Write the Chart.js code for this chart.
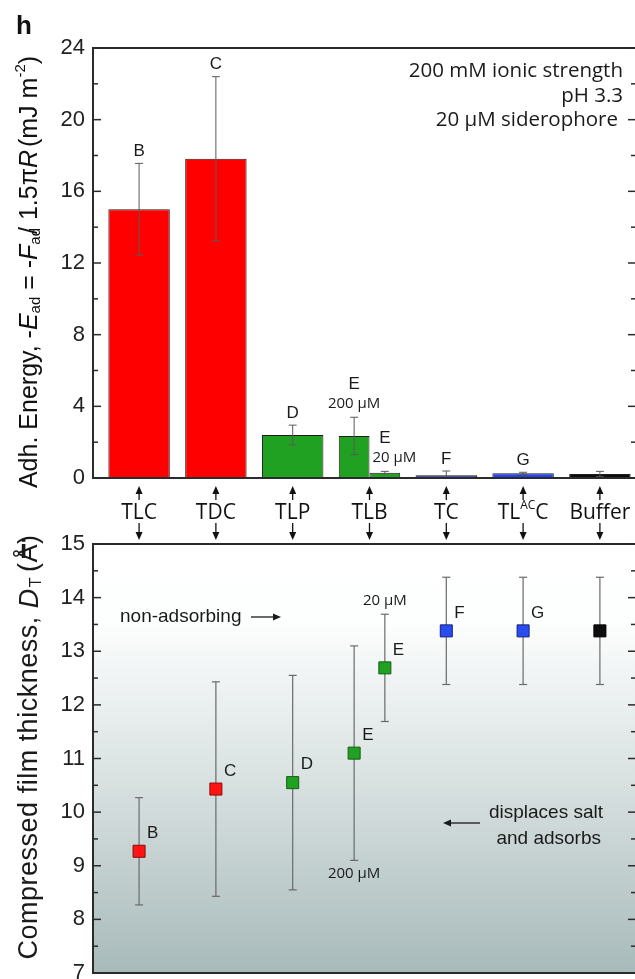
<!DOCTYPE html>
<html>
<head>
<meta charset="utf-8">
<script src="https://cdn.jsdelivr.net/npm/chart.js@4.4.1/dist/chart.umd.min.js"></script>
<style>
  html { overflow: hidden; }
  body { margin: 0; background: #fff; width: 680px; height: 1000px; overflow: hidden; position: relative; }
  #energy { position: absolute; left: 0; top: 0; z-index: 2; }
  #thickness { position: absolute; left: 0; top: 520px; z-index: 1; }
</style>
</head>
<body>
<canvas id="energy" width="640" height="544"></canvas>
<canvas id="thickness" width="650" height="480"></canvas>
<script>
// values
const categories = ["TLC", "TDC", "TLP", "TLB", "TC", "TL{AC}C", "Buffer"];

// panel h: adhesion energy (mJ m^-2), 20 uM siderophore and 200 uM (TLB only)
const energyLow = [15.0, 17.82, 2.4, 0.3, 0.15, 0.26, 0.22];
const energyLowErr = [2.56, 4.58, 0.55, 0.07, 0.24, 0.06, 0.15];
const energyHigh = [null, null, null, 2.35, null, null, null];
const energyHighErr = [null, null, null, 1.04, null, null, null];

// panel i: compressed film thickness (A)
const thicknessLow = [9.27, 10.43, 10.55, 12.69, 13.38, 13.38, 13.38];
const thicknessLowErr = [1.0, 2.0, 2.0, 1.0, 1.0, 1.0, 1.0];
const thicknessHigh = [null, null, null, 11.1, null, null, null];
const thicknessHighErr = [null, null, null, 2.0, null, null, null];

const lettersLow = ["B", "C", "D", "E", "F", "G", ""];
const lettersHigh = [null, null, null, "E", null, null, null];
const concLow = "20 μM";
const concHigh = "200 μM";

const energyTicks = [0, 4, 8, 12, 16, 20, 24];
const thicknessTicks = [7, 8, 9, 10, 11, 12, 13, 14, 15];

const SANS = '"Liberation Sans", Arial, sans-serif';
const MYR = '"Open Sans", sans-serif';

const barColors = ["#ff0000", "#ff0000", "#21a121", "#21a121", "#1c2fae", "#2343e4", "#0d0d0d"];
const markerColors = ["#ff1414", "#ff1414", "#21a121", "#21a121", "#2a4df0", "#2a4df0", "#0d0d0d"];
const markerEdges = ["#8a0a0a", "#8a0a0a", "#145c14", "#145c14", "#14207a", "#14207a", "#000000"];

const xMin = -0.6;
const xMax = 6.47;
const splitOffset = 0.2;

function line(ctx, x1, y1, x2, y2) {
  ctx.beginPath();
  ctx.moveTo(x1, y1);
  ctx.lineTo(x2, y2);
  ctx.stroke();
}

function arrow(ctx, x1, y1, x2, y2) {
  const ang = Math.atan2(y2 - y1, x2 - x1);
  const head = 8, half = 3.5;
  const bx = x2 - Math.cos(ang) * head, by = y2 - Math.sin(ang) * head;
  line(ctx, x1, y1, bx, by);
  ctx.beginPath();
  ctx.moveTo(x2, y2);
  ctx.lineTo(bx + half * Math.sin(ang), by - half * Math.cos(ang));
  ctx.lineTo(bx - half * Math.sin(ang), by + half * Math.cos(ang));
  ctx.closePath();
  ctx.fill();
}

function errorBar(ctx, x, top, bottom) {
  line(ctx, x, top, x, bottom);
  line(ctx, x - 4, top, x + 4, top);
  line(ctx, x - 4, bottom, x + 4, bottom);
}

// parts: [text, font, baseline shift, extra spacing after]
function richText(ctx, parts, cx, cy, rotate, spacing) {
  ctx.save();
  ctx.translate(cx, cy);
  if (rotate) ctx.rotate(-Math.PI / 2);
  ctx.textBaseline = "middle";
  ctx.textAlign = "left";
  if (spacing) ctx.letterSpacing = spacing;
  let total = 0;
  const widths = parts.map((p) => {
    ctx.font = p[1];
    const w = ctx.measureText(p[0]).width + (p[3] || 0);
    total += w;
    return w;
  });
  let x = -total / 2;
  parts.forEach((p, k) => {
    ctx.font = p[1];
    ctx.fillText(p[0], x, p[2] || 0);
    x += widths[k];
  });
  ctx.restore();
}

function categoryParts(label) {
  const m = label.match(/^(.*)\{(.*)\}(.*)$/);
  const big = `21px ${MYR}`;
  if (!m) return [[label, big, 0]];
  return [[m[1], big, 0], [m[2], `12px ${MYR}`, -7], [m[3], big, 0]];
}

function frameAndTicks(ctx, a, scale, ticks) {
  ctx.save();
  ctx.strokeStyle = "#2b2b2b";
  ctx.lineWidth = 2;
  ctx.strokeRect(a.left, a.top, a.right - a.left, a.bottom - a.top);
  ctx.lineWidth = 1.5;
  ticks.forEach((v, k) => {
    const py = scale.getPixelForValue(v);
    line(ctx, a.left, py, a.left + 8, py);
    line(ctx, a.right - 8, py, a.right, py);
    if (k < ticks.length - 1) {
      const pm = scale.getPixelForValue((v + ticks[k + 1]) / 2);
      line(ctx, a.left, pm, a.left + 5, pm);
      line(ctx, a.right - 5, pm, a.right, pm);
    }
  });
  ctx.restore();
}

const energySeries = [
  { values: energyHigh, errors: energyHighErr, letters: lettersHigh, conc: concHigh },
  { values: energyLow, errors: energyLowErr, letters: lettersLow, conc: concLow }
];

const energyDecor = {
  id: "energyDecor",
  afterDatasetsDraw(chart) {
    const { ctx, chartArea: a, scales: { y } } = chart;
    ctx.save();
    ctx.beginPath();
    ctx.rect(a.left, a.top, a.right - a.left, a.bottom - a.top);
    ctx.clip();
    ctx.strokeStyle = "#5a5a5a";
    ctx.lineWidth = 1;
    energySeries.forEach((s, d) => {
      const meta = chart.getDatasetMeta(d);
      s.values.forEach((v, i) => {
        if (v == null) return;
        const bar = meta.data[i];
        errorBar(ctx, bar.x, y.getPixelForValue(v + s.errors[i]), y.getPixelForValue(v - s.errors[i]));
      });
    });
    ctx.restore();
  },
  afterDraw(chart) {
    const { ctx, chartArea: a, scales: { x, y } } = chart;
    frameAndTicks(ctx, a, y, energyTicks);
    ctx.save();
    ctx.fillStyle = "#1a1a1a";
    ctx.textBaseline = "middle";

    // group letters and concentration labels
    energySeries.forEach((s, d) => {
      const meta = chart.getDatasetMeta(d);
      s.values.forEach((v, i) => {
        if (v == null || !s.letters[i]) return;
        const bar = meta.data[i];
        const top = y.getPixelForValue(v + s.errors[i]);
        const split = energyHigh[i] != null && energyLow[i] != null;
        ctx.font = `17px ${SANS}`;
        ctx.textAlign = "center";
        if (split) {
          ctx.fillText(s.letters[i], bar.x, top - 33);
          ctx.font = `15px ${MYR}`;
          if (d === 0) {
            ctx.fillText(s.conc, bar.x, top - 14);
          } else {
            ctx.textAlign = "left";
            ctx.fillText(s.conc, bar.x - bar.width / 2 + 3, top - 14);
          }
        } else {
          ctx.fillText(s.letters[i], bar.x, top - 12);
        }
      });
    });

    // conditions
    ctx.font = `20.5px ${MYR}`;
    ctx.textAlign = "right";
    ctx.fillText("200 mM ionic strength", 623, 71);
    ctx.fillText("pH 3.3", 623, 96);
    ctx.fillText("20 μM siderophore", 618, 120);

    // category labels with arrows to both panels
    ctx.strokeStyle = "#111";
    ctx.fillStyle = "#111";
    ctx.lineWidth = 1.3;
    categories.forEach((c, i) => {
      const px = x.getPixelForValue(i);
      arrow(ctx, px, a.bottom + 22, px, a.bottom + 8);
      arrow(ctx, px, a.bottom + 45, px, a.bottom + 62);
      richText(ctx, categoryParts(c), px, a.bottom + 35, false);
    });

    // axis title
    const big = `25px ${SANS}`, ital = `italic 25px ${SANS}`, small = `15px ${SANS}`;
    richText(ctx, [
      ["Adh. Energy, -", big, 0],
      ["E", ital, 0],
      ["ad", small, 6],
      [" = -", big, 0],
      ["F", ital, 0],
      ["ad", small, 6, -6],
      ["/", big, 0],
      [" 1.5π", big, 0],
      ["R", ital, 0, 3],
      ["(mJ m", big, 0],
      ["-2", small, -9],
      [")", big, 0]
    ], 30, 272, true);

    ctx.font = `bold 26px ${SANS}`;
    ctx.textAlign = "left";
    ctx.fillText("h", 16, 27);
    ctx.restore();
  }
};

const thicknessSeries = [
  { values: thicknessHigh, errors: thicknessHighErr, letters: lettersHigh, conc: concHigh, side: -1 },
  { values: thicknessLow, errors: thicknessLowErr, letters: lettersLow, conc: concLow, side: 1 }
];

function pointX(i, side) {
  const split = thicknessHigh[i] != null && thicknessLow[i] != null;
  return i + (split ? side * splitOffset : 0);
}

const thicknessDecor = {
  id: "thicknessDecor",
  beforeDraw(chart) {
    const { ctx, chartArea: a } = chart;
    const g = ctx.createLinearGradient(0, a.top, 0, a.bottom);
    g.addColorStop(0, "#ffffff");
    g.addColorStop(0.18, "#fdfefe");
    g.addColorStop(0.55, "#d9e1e1");
    g.addColorStop(1, "#a8baba");
    ctx.save();
    ctx.fillStyle = g;
    ctx.fillRect(a.left, a.top, a.right - a.left, a.bottom - a.top);
    ctx.restore();
  },
  beforeDatasetsDraw(chart) {
    const { ctx, scales: { y } } = chart;
    ctx.save();
    ctx.strokeStyle = "#6a6a6a";
    ctx.lineWidth = 1.2;
    thicknessSeries.forEach((s, d) => {
      const meta = chart.getDatasetMeta(d);
      s.values.forEach((v, i) => {
        if (v == null) return;
        const pt = meta.data[i];
        errorBar(ctx, pt.x, y.getPixelForValue(v + s.errors[i]), y.getPixelForValue(v - s.errors[i]));
      });
    });
    ctx.restore();
  },
  afterDraw(chart) {
    const { ctx, chartArea: a, scales: { y } } = chart;
    frameAndTicks(ctx, a, y, thicknessTicks);
    ctx.save();
    ctx.fillStyle = "#1a1a1a";
    ctx.textBaseline = "middle";
    thicknessSeries.forEach((s, d) => {
      const meta = chart.getDatasetMeta(d);
      s.values.forEach((v, i) => {
        if (v == null) return;
        const pt = meta.data[i];
        if (s.letters[i]) {
          ctx.font = `17px ${SANS}`;
          ctx.textAlign = "left";
          ctx.fillText(s.letters[i], pt.x + 8, pt.y - 18);
        }
        const split = thicknessHigh[i] != null && thicknessLow[i] != null;
        if (split) {
          ctx.font = `15px ${MYR}`;
          ctx.textAlign = "center";
          if (s.side < 0) {
            ctx.fillText(s.conc, pt.x, y.getPixelForValue(v - s.errors[i]) + 13);
          } else {
            ctx.fillText(s.conc, pt.x, y.getPixelForValue(v + s.errors[i]) - 14);
          }
        }
      });
    });

    ctx.strokeStyle = "#1a1a1a";
    ctx.lineWidth = 1.3;
    ctx.font = `19px ${SANS}`;
    ctx.textAlign = "left";
    ctx.fillText("non-adsorbing", 120, 97);
    arrow(ctx, 251, 97, 281, 97);
    ctx.textAlign = "right";
    ctx.fillText("displaces salt", 603, 293);
    ctx.fillText("and adsorbs", 601, 319);
    arrow(ctx, 480, 303, 443, 303);

    const big = `27px ${SANS}`;
    richText(ctx, [
      ["Compressed film thickness, ", big, 0],
      ["D", `italic 27px ${SANS}`, 0, 1],
      ["T", `16px ${SANS}`, 7, 5],
      ["(Å)", big, 0]
    ], 30, 227, true, "0.5px");

    ctx.font = `bold 26px ${SANS}`;
    ctx.textAlign = "left";
    ctx.fillText("i", 20, 31);
    ctx.restore();
  }
};

function fixedWidth(scale) { scale.width = 93; }

new Chart(document.getElementById("energy"), {
  type: "bar",
  data: {
    datasets: energySeries.map((s) => ({
      label: s.conc,
      data: s.values.map((v, i) => ({ x: i, y: v })),
      backgroundColor: barColors,
      borderColor: "#1e1e1e",
      borderWidth: 1,
      categoryPercentage: 0.8,
      barPercentage: 1.0,
      skipNull: true
    }))
  },
  options: {
    responsive: false,
    animation: false,
    layout: { padding: { top: 48, right: 4, bottom: 66, left: 0 } },
    plugins: { legend: { display: false }, tooltip: { enabled: false } },
    scales: {
      x: {
        type: "linear",
        display: false,
        offset: false,
        min: xMin,
        max: xMax,
        afterBuildTicks: (s) => { s.ticks = categories.map((c, i) => ({ value: i })); }
      },
      y: {
        min: 0,
        max: 24,
        afterFit: fixedWidth,
        afterBuildTicks: (s) => { s.ticks = energyTicks.map((v) => ({ value: v })); },
        grid: { display: false, drawTicks: false },
        border: { display: false },
        ticks: { font: { family: SANS, size: 22 }, color: "#222", padding: 8 }
      }
    }
  },
  plugins: [energyDecor]
});

new Chart(document.getElementById("thickness"), {
  type: "scatter",
  data: {
    datasets: thicknessSeries.map((s) => ({
      label: s.conc,
      data: s.values.map((v, i) => ({ x: pointX(i, s.side), y: v })),
      pointStyle: "rect",
      pointRadius: 8.5,
      pointBackgroundColor: markerColors,
      pointBorderColor: markerEdges,
      pointBorderWidth: 1,
      showLine: false
    }))
  },
  options: {
    responsive: false,
    animation: false,
    layout: { padding: { top: 24, right: 14, bottom: 27, left: 0 } },
    plugins: { legend: { display: false }, tooltip: { enabled: false } },
    scales: {
      x: { type: "linear", display: false, offset: false, min: xMin, max: xMax },
      y: {
        min: 7,
        max: 15,
        afterFit: fixedWidth,
        afterBuildTicks: (s) => { s.ticks = thicknessTicks.map((v) => ({ value: v })); },
        grid: { display: false, drawTicks: false },
        border: { display: false },
        ticks: { font: { family: SANS, size: 22 }, color: "#222", padding: 8 }
      }
    }
  },
  plugins: [thicknessDecor]
});
</script>
</body>
</html>
